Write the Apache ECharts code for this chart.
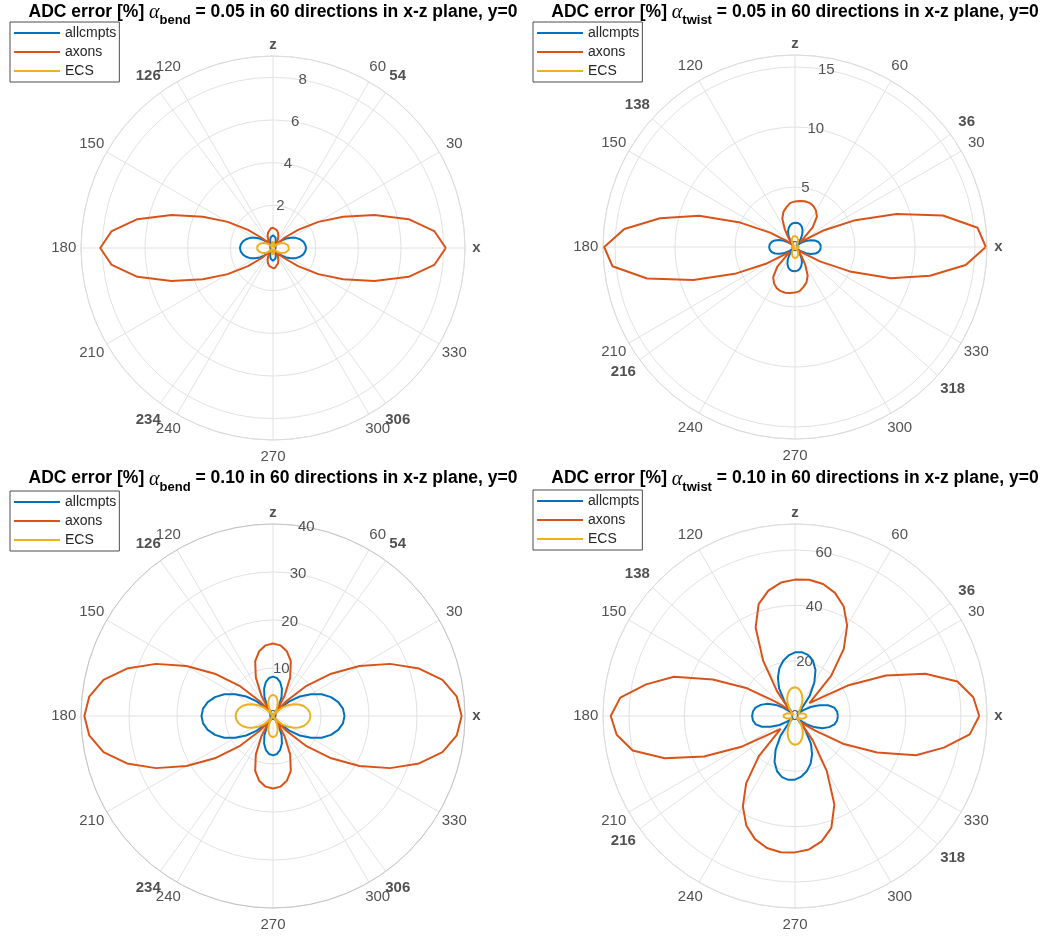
<!DOCTYPE html>
<html><head><meta charset="utf-8">
<script src="https://cdn.jsdelivr.net/npm/echarts/dist/echarts.min.js"></script>
<style>html,body{margin:0;padding:0;background:#fff}#c{width:1054px;height:938px}</style>
</head><body><div id="c"></div>
<script>
// ---- shared categories ----
const directions = [0,6,12,18,24,30,36,42,48,54,60,66,72,78,84,90,96,102,108,114,120,126,132,138,144,150,156,162,168,174,
  180,186,192,198,204,210,216,222,228,234,240,246,252,258,264,270,276,282,288,294,300,306,312,318,324,330,336,342,348,354];
const seriesNames = ['allcmpts','axons','ECS'];
const thetaTicks = [0,30,60,90,120,150,180,210,240,270,300,330];
const thetaTickLabels = ['x','30','60','z','120','150','180','210','240','270','300','330'];

// ---- plot 1: alpha_bend = 0.05 ----
const bend005_allcmpts = [1.55,1.52,1.45,1.33,1.17,0.97,0.75,0.5,0.25,0.06,0.15,0.3,0.42,0.52,0.58,0.6,
  0.58,0.52,0.42,0.3,0.15,0.06,0.25,0.5,0.75,0.97,1.17,1.33,1.45,1.52,1.55,
  1.52,1.45,1.33,1.17,0.97,0.75,0.5,0.25,0.06,0.15,0.3,0.42,0.52,0.58,0.6,
  0.58,0.52,0.42,0.3,0.15,0.06,0.25,0.5,0.75,0.97,1.17,1.33,1.45,1.52];
const bend005_axons = [8.1,7.6,6.5,5.0,3.6,2.45,1.45,0.7,0.15,0.25,0.45,0.62,0.76,0.86,0.93,0.95,
  0.93,0.86,0.76,0.62,0.45,0.25,0.15,0.7,1.45,2.45,3.6,5.0,6.5,7.6,8.1,
  7.6,6.5,5.0,3.6,2.45,1.45,0.7,0.15,0.25,0.45,0.62,0.76,0.86,0.93,0.95,
  0.93,0.86,0.76,0.62,0.45,0.25,0.15,0.7,1.45,2.45,3.6,5.0,6.5,7.6];
const bend005_ECS = [0.75,0.74,0.7,0.64,0.56,0.47,0.37,0.26,0.15,0.05,0.06,0.13,0.2,0.25,0.28,0.3,
  0.28,0.25,0.2,0.13,0.06,0.05,0.15,0.26,0.37,0.47,0.56,0.64,0.7,0.74,0.75,
  0.74,0.7,0.64,0.56,0.47,0.37,0.26,0.15,0.05,0.06,0.13,0.2,0.25,0.28,0.3,
  0.28,0.25,0.2,0.13,0.06,0.05,0.15,0.26,0.37,0.47,0.56,0.64,0.7,0.74];
const bend005_rTicks = [0,2,4,6,8];
const bend005_special = [54,126,234,306];

// ---- plot 2: alpha_twist = 0.05 ----
const twist005_allcmpts = [2.15,2.12,2.0,1.75,1.4,1.0,0.55,0.15,0.35,0.8,1.2,1.55,1.8,1.95,2.02,2.02,1.98,1.87,1.68,1.42,1.08,0.68,0.25,0.2,0.6,1.05,1.45,1.78,2.0,2.12,
  2.15,2.12,2.0,1.75,1.4,1.0,0.55,0.15,0.35,0.8,1.2,1.55,1.8,1.95,2.02,2.02,1.98,1.87,1.68,1.42,1.08,0.68,0.25,0.2,0.6,1.05,1.45,1.78,2.0,2.12];
const twist005_axons = [15.9,15.3,12.6,8.9,5.5,2.8,1.0,0.6,2.2,3.1,3.5,3.75,3.87,3.9,3.85,3.8,3.7,3.4,3.1,2.6,1.7,0.9,0.3,0.3,0.9,2.4,5.0,8.4,11.5,14.3,
  15.9,15.3,12.6,8.9,5.5,2.8,1.0,0.6,2.2,3.1,3.5,3.75,3.87,3.9,3.85,3.8,3.7,3.4,3.1,2.6,1.7,0.9,0.3,0.3,0.9,2.4,5.0,8.4,11.5,14.3];
const twist005_ECS = [0.37,0.36,0.33,0.28,0.21,0.13,0.05,0.08,0.2,0.35,0.5,0.64,0.76,0.85,0.9,0.92,0.91,0.87,0.79,0.68,0.54,0.39,0.24,0.1,0.04,0.12,0.2,0.27,0.32,0.36,
  0.37,0.36,0.33,0.28,0.21,0.13,0.05,0.08,0.2,0.35,0.5,0.64,0.76,0.85,0.9,0.92,0.91,0.87,0.79,0.68,0.54,0.39,0.24,0.1,0.04,0.12,0.2,0.27,0.32,0.36];
const twist005_rTicks = [0,5,10,15];
const twist005_special = [36,138,216,318];

// ---- plot 3: alpha_bend = 0.10 ----
const bend010_allcmpts = [14.9,14.65,13.9,12.7,11.1,9.1,6.9,4.55,2.15,0.25,2.45,4.4,6.0,7.2,7.95,8.2,
  7.95,7.2,6.0,4.4,2.45,0.25,2.15,4.55,6.9,9.1,11.1,12.7,13.9,14.65,14.9,
  14.65,13.9,12.7,11.1,9.1,6.9,4.55,2.15,0.25,2.45,4.4,6.0,7.2,7.95,8.2,
  7.95,7.2,6.0,4.4,2.45,0.25,2.15,4.55,6.9,9.1,11.1,12.7,13.9,14.65];
const bend010_axons = [39.3,38.5,36.1,32.0,26.7,20.8,15.0,9.4,4.2,1.2,4.8,8.8,12.0,13.8,14.8,15.1,
  14.8,13.8,12.0,8.8,4.8,1.2,4.2,9.4,15.0,20.8,26.7,32.0,36.1,38.5,39.3,
  38.5,36.1,32.0,26.7,20.8,15.0,9.4,4.2,1.2,4.8,8.8,12.0,13.8,14.8,15.1,
  14.8,13.8,12.0,8.8,4.8,1.2,4.2,9.4,15.0,20.8,26.7,32.0,36.1,38.5];
const bend010_ECS = [7.8,7.67,7.31,6.72,5.92,4.94,3.81,2.59,1.31,0.1,1.16,2.24,3.15,3.83,4.26,4.4,
  4.26,3.83,3.15,2.24,1.16,0.1,1.31,2.59,3.81,4.94,5.92,6.72,7.31,7.67,7.8,
  7.67,7.31,6.72,5.92,4.94,3.81,2.59,1.31,0.1,1.16,2.24,3.15,3.83,4.26,4.4,
  4.26,3.83,3.15,2.24,1.16,0.1,1.31,2.59,3.81,4.94,5.92,6.72,7.31,7.67];
const bend010_rTicks = [0,10,20,30,40];
const bend010_special = [54,126,234,306];

// ---- plot 4: alpha_twist = 0.10 ----
const twist010_allcmpts = [15.5,15.3,14.5,12.6,9.6,6.5,3.5,1.0,3.5,9.0,14.0,18.2,21.0,22.6,23.2,23.0,22.0,20.4,18.2,15.2,11.5,6.5,1.5,2.0,5.0,8.0,10.8,13.0,14.6,15.3,
  15.5,15.3,14.5,12.6,9.6,6.5,3.5,1.0,3.5,9.0,14.0,18.2,21.0,22.6,23.2,23.0,22.0,20.4,18.2,15.2,11.5,6.5,1.5,2.0,5.0,8.0,10.8,13.0,14.6,15.3];
const twist010_axons = [66.6,64.8,60.0,49.5,36.0,22.0,10.5,7.0,19.5,30.0,37.7,43.3,46.8,48.8,49.5,49.3,48.5,46.3,42.5,35.0,23.0,11.0,3.0,3.0,9.0,20.0,32.5,46.0,55.0,63.5,
  66.6,64.8,60.0,49.5,36.0,22.0,10.5,7.0,19.5,30.0,37.7,43.3,46.8,48.8,49.5,49.3,48.5,46.3,42.5,35.0,23.0,11.0,3.0,3.0,9.0,20.0,32.5,46.0,55.0,63.5];
const twist010_ECS = [4.2,4.1,3.7,3.0,2.2,1.3,0.5,0.6,1.8,3.4,5.0,6.6,8.1,9.3,10.1,10.4,10.2,9.5,8.4,7.0,5.4,3.7,2.0,0.7,0.5,1.3,2.3,3.1,3.7,4.1,
  4.2,4.1,3.7,3.0,2.2,1.3,0.5,0.6,1.8,3.4,5.0,6.6,8.1,9.3,10.1,10.4,10.2,9.5,8.4,7.0,5.4,3.7,2.0,0.7,0.5,1.3,2.3,3.1,3.7,4.1];
const twist010_rTicks = [0,20,40,60];
const twist010_special = [36,138,216,318];

// ---- layout / style ----
const FONT = '"Liberation Sans", Arial, Helvetica, sans-serif';
const TXT = '#262626';
const GRID = '#e2e2e2';
const COLORS = ['#0072BD', '#D95319', '#EDB120'];
const R = 192;

const plots = [
  {sub:'bend', alpha:'0.05', center:[273, 248], titleTop:3, legend:[10, 22], rmax:9, rInt:2,
   ticks:bend005_rTicks, special:bend005_special, values:[bend005_allcmpts, bend005_axons, bend005_ECS], ring:'#dcdcdc'},
  {sub:'twist', alpha:'0.05', center:[795, 247], titleTop:3, legend:[533, 22], rmax:16, rInt:5,
   ticks:twist005_rTicks, special:twist005_special, values:[twist005_allcmpts, twist005_axons, twist005_ECS], ring:'#dcdcdc'},
  {sub:'bend', alpha:'0.10', center:[273, 716], titleTop:469.5, legend:[10, 491], rmax:40, rInt:10,
   ticks:bend010_rTicks, special:bend010_special, values:[bend010_allcmpts, bend010_axons, bend010_ECS], ring:'#c4c4c4'},
  {sub:'twist', alpha:'0.10', center:[795, 716], titleTop:469.5, legend:[533, 490], rmax:69.4, rInt:20,
   ticks:twist010_rTicks, special:twist010_special, values:[twist010_allcmpts, twist010_axons, twist010_ECS], ring:'#dcdcdc'}
];

function loop(vals) {
  const d = vals.map((v, i) => [v, directions[i]]);
  d.push([vals[0], 360]);
  return d;
}

const series = [];
plots.forEach((p, k) => {
  p.special.forEach(a => series.push({
    type:'line', coordinateSystem:'polar', polarIndex:k, silent:true, symbol:'none', z:1,
    data:[[0, a], [p.rmax, a]], lineStyle:{color:GRID, width:1}, tooltip:{show:false}
  }));
  series.push({
    type:'scatter', coordinateSystem:'polar', polarIndex:k, silent:true, symbolSize:1, clip:false, z:2,
    itemStyle:{color:'rgba(0,0,0,0)'},
    label:{show:true, position:'inside', formatter:'{b}', fontFamily:FONT, fontSize:15, color:TXT},
    data: thetaTicks.map((a, i) => {
      const bold = (thetaTickLabels[i] === 'x' || thetaTickLabels[i] === 'z');
      return {name:thetaTickLabels[i], value:[p.rmax * (bold ? 1.06 : 1.09), a],
              label:{fontWeight: bold ? 'bold' : 'normal'}};
    }).concat(p.special.map(a => ({name:String(a), value:[p.rmax * 1.105, a], label:{fontWeight:'bold'}})))
  });
  series.push({
    type:'scatter', coordinateSystem:'polar', polarIndex:k, silent:true, symbolSize:1, clip:false, z:2,
    itemStyle:{color:'rgba(0,0,0,0)'},
    label:{show:true, position:'inside', formatter:'{b}', fontFamily:FONT, fontSize:15, color:TXT},
    data: p.ticks.map(t => ({name:String(t), value:[t, 80]}))
  });
  p.values.forEach((vals, j) => series.push({
    name:seriesNames[j], type:'line', coordinateSystem:'polar', polarIndex:k, symbol:'none', z:5,
    data:loop(vals), lineStyle:{color:COLORS[j], width:2}, itemStyle:{color:COLORS[j]}
  }));
});

const option = {
  animation:false,
  backgroundColor:'#ffffff',
  title: plots.map(p => ({
    text:'{n|ADC error [%] }{a|α}{s|' + p.sub + '}{n| = ' + p.alpha + ' in 60 directions in x-z plane, y=0}',
    left:p.center[0], top:p.titleTop, textAlign:'center', padding:0,
    textStyle:{
      fontWeight:'normal',
      rich:{
        n:{fontFamily:FONT, fontSize:17.5, fontWeight:'bold', color:'#000', lineHeight:20, verticalAlign:'top'},
        a:{fontFamily:'"Liberation Serif","DejaVu Serif",serif', fontStyle:'italic', fontWeight:'normal', fontSize:20, color:'#000', lineHeight:20, verticalAlign:'top'},
        s:{fontFamily:FONT, fontSize:13, fontWeight:'bold', color:'#000', lineHeight:13, verticalAlign:'top', padding:[11,0,0,0]}
      }
    }
  })),
  legend: plots.map(p => ({
    data:seriesNames, orient:'vertical', left:p.legend[0], top:p.legend[1],
    icon:'rect', itemWidth:46, itemHeight:2, itemGap:5, padding:[4,3,4,4],
    borderColor:'#4d4d4d', borderWidth:1, backgroundColor:'#fff', borderRadius:0,
    textStyle:{fontFamily:FONT, fontSize:14, color:TXT, lineHeight:14}, selectedMode:false
  })),
  polar: plots.map(p => ({center:p.center, radius:R})),
  angleAxis: plots.map((p, i) => ({
    polarIndex:i, type:'value', min:0, max:360, interval:30, startAngle:0, clockwise:false,
    axisLine:{show:true, lineStyle:{color:p.ring, width:1}}, axisTick:{show:false}, axisLabel:{show:false},
    splitLine:{show:true, lineStyle:{color:GRID, width:1}}
  })),
  radiusAxis: plots.map((p, i) => ({
    polarIndex:i, type:'value', min:0, max:p.rmax, interval:p.rInt,
    axisLine:{show:false}, axisTick:{show:false}, axisLabel:{show:false},
    splitLine:{show:true, lineStyle:{color:GRID, width:1}}
  })),
  series: series
};

const chart = echarts.init(document.getElementById('c'), null, {renderer:'canvas'});
chart.setOption(option);
</script>
</body></html>
